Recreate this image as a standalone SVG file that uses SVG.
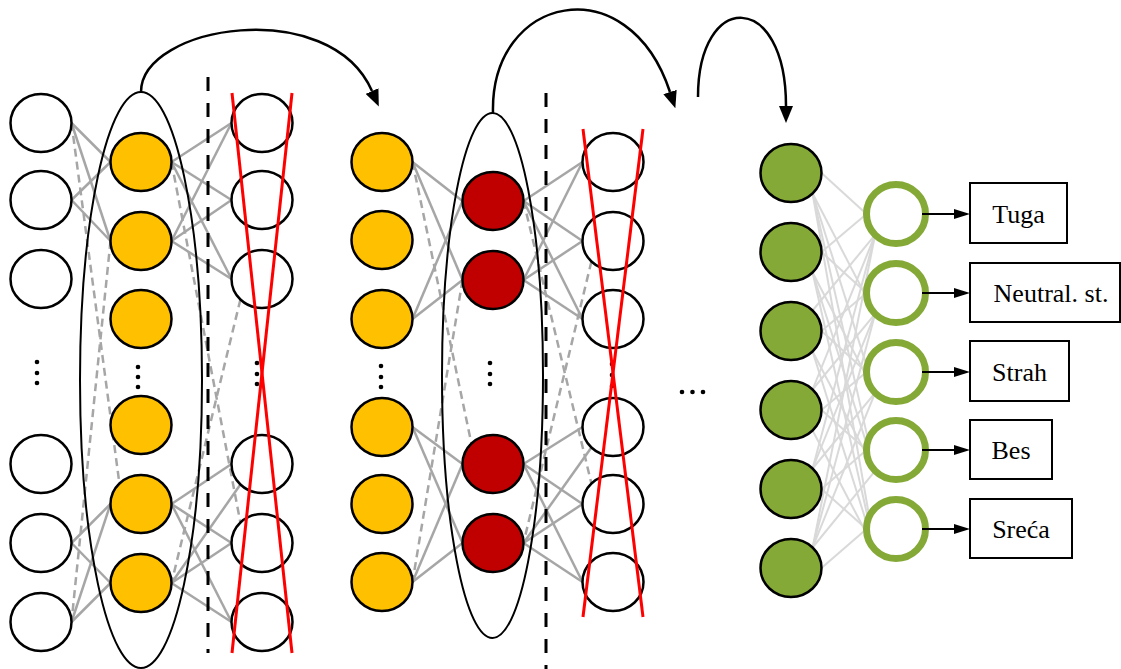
<svg xmlns="http://www.w3.org/2000/svg" width="1121" height="669" viewBox="0 0 1121 669">
<style>
.n{stroke:#000;stroke-width:2.5}
.w{fill:#fff}
.y{fill:#FFC000}
.r{fill:#C00000}
.g{fill:#84A936}
.ring{fill:#fff;stroke:#84A936;stroke-width:7}
.s{stroke:#A6A6A6;stroke-width:2.5;fill:none}
.d{stroke:#A6A6A6;stroke-width:2.5;fill:none;stroke-dasharray:8,5}
.lg{stroke:#D9D9D9;stroke-width:2;fill:none}
.ell{fill:none;stroke:#000;stroke-width:2}
.vd{stroke:#000;stroke-width:3;stroke-dasharray:14,12;fill:none}
.x{stroke:#FF0000;stroke-width:3;fill:none}
.arc{stroke:#000;stroke-width:2.5;fill:none}
.ar{stroke:#000;stroke-width:2;fill:none}
.box{fill:#fff;stroke:#000;stroke-width:2}
.t{font-family:"Liberation Serif","Times New Roman",serif;font-size:26px;fill:#000;text-anchor:middle}
.dot{fill:#000}
</style>
<defs>
<marker id="big" viewBox="0 0 17 14" refX="0" refY="7" markerWidth="17" markerHeight="14" markerUnits="userSpaceOnUse" orient="auto"><path d="M0,0 L17,7 L0,14 z" fill="#000"/></marker>
<marker id="sm" viewBox="0 0 16 10" refX="0" refY="5" markerWidth="16" markerHeight="10" markerUnits="userSpaceOnUse" orient="auto"><path d="M0,0 L16,5 L0,10 z" fill="#000"/></marker>
</defs>

<g id="connectors">
<!-- layer 1 -->
<line class="s" x1="71.5" y1="123" x2="110.5" y2="162"/>
<line class="s" x1="71.5" y1="123" x2="110.5" y2="241"/>
<line class="s" x1="71.5" y1="200" x2="110.5" y2="162"/>
<line class="s" x1="71.5" y1="200" x2="110.5" y2="241"/>
<line class="s" x1="71.5" y1="543" x2="110.5" y2="504"/>
<line class="s" x1="71.5" y1="543" x2="110.5" y2="583"/>
<line class="s" x1="71.5" y1="622" x2="110.5" y2="504"/>
<line class="s" x1="71.5" y1="622" x2="110.5" y2="583"/>
<line class="d" x1="71.5" y1="123" x2="119.4" y2="483.5"/>
<line class="d" x1="110.5" y1="241" x2="71.5" y2="622"/>
<!-- layer 2 -->
<line class="s" x1="171.5" y1="162" x2="231.5" y2="123"/>
<line class="s" x1="171.5" y1="162" x2="231.5" y2="200"/>
<line class="s" x1="171.5" y1="162" x2="231.5" y2="279"/>
<line class="s" x1="171.5" y1="241" x2="231.5" y2="123"/>
<line class="s" x1="171.5" y1="241" x2="231.5" y2="200"/>
<line class="s" x1="171.5" y1="241" x2="231.5" y2="279"/>
<line class="s" x1="171.5" y1="504" x2="231.5" y2="464"/>
<line class="s" x1="171.5" y1="504" x2="231.5" y2="543"/>
<line class="s" x1="171.5" y1="504" x2="231.5" y2="622"/>
<line class="s" x1="171.5" y1="583" x2="240.4" y2="484.5"/>
<line class="s" x1="171.5" y1="583" x2="231.5" y2="543"/>
<line class="s" x1="171.5" y1="583" x2="231.5" y2="622"/>
<line class="d" x1="171.5" y1="162" x2="240.4" y2="522.5"/>
<line class="d" x1="240.4" y1="299.5" x2="171.5" y2="583"/>
<!-- layer 3 -->
<line class="s" x1="412.5" y1="162" x2="462.5" y2="201"/>
<line class="s" x1="412.5" y1="162" x2="462.5" y2="280"/>
<line class="s" x1="412.5" y1="319" x2="462.5" y2="201"/>
<line class="s" x1="412.5" y1="319" x2="462.5" y2="280"/>
<line class="s" x1="412.5" y1="427" x2="462.5" y2="464"/>
<line class="s" x1="412.5" y1="427" x2="462.5" y2="543"/>
<line class="s" x1="412.5" y1="582" x2="462.5" y2="464"/>
<line class="s" x1="412.5" y1="582" x2="462.5" y2="543"/>
<line class="d" x1="412.5" y1="162" x2="471.4" y2="443.5"/>
<line class="d" x1="462.5" y1="280" x2="412.5" y2="582"/>
<!-- layer 4 -->
<line class="s" x1="523.5" y1="201" x2="582.5" y2="162"/>
<line class="s" x1="523.5" y1="201" x2="582.5" y2="241"/>
<line class="s" x1="523.5" y1="201" x2="582.5" y2="319"/>
<line class="s" x1="523.5" y1="280" x2="582.5" y2="162"/>
<line class="s" x1="523.5" y1="280" x2="582.5" y2="241"/>
<line class="s" x1="523.5" y1="280" x2="582.5" y2="319"/>
<line class="s" x1="523.5" y1="464" x2="582.5" y2="427"/>
<line class="s" x1="523.5" y1="464" x2="582.5" y2="504"/>
<line class="s" x1="523.5" y1="464" x2="582.5" y2="582"/>
<line class="s" x1="523.5" y1="543" x2="591.4" y2="447.5"/>
<line class="s" x1="523.5" y1="543" x2="582.5" y2="504"/>
<line class="s" x1="523.5" y1="543" x2="582.5" y2="582"/>
<line class="d" x1="523.5" y1="201" x2="591.4" y2="483.5"/>
<line class="d" x1="591.4" y1="261.5" x2="523.5" y2="543"/>
<!-- layer 5 -->
<line class="lg" x1="821.5" y1="173" x2="866.5" y2="214"/>
<line class="lg" x1="812.6" y1="193.5" x2="875.1" y2="313.9"/>
<line class="lg" x1="812.6" y1="193.5" x2="875.1" y2="392.9"/>
<line class="lg" x1="812.6" y1="193.5" x2="875.1" y2="470.9"/>
<line class="lg" x1="812.6" y1="193.5" x2="875.1" y2="549.9"/>
<line class="lg" x1="821.5" y1="252" x2="866.5" y2="214"/>
<line class="lg" x1="821.5" y1="252" x2="866.5" y2="293"/>
<line class="lg" x1="812.6" y1="272.5" x2="875.1" y2="392.9"/>
<line class="lg" x1="812.6" y1="272.5" x2="875.1" y2="470.9"/>
<line class="lg" x1="812.6" y1="272.5" x2="875.1" y2="549.9"/>
<line class="lg" x1="812.6" y1="310.5" x2="875.1" y2="234.9"/>
<line class="lg" x1="821.5" y1="331" x2="866.5" y2="293"/>
<line class="lg" x1="821.5" y1="331" x2="866.5" y2="372"/>
<line class="lg" x1="812.6" y1="351.5" x2="875.1" y2="470.9"/>
<line class="lg" x1="812.6" y1="351.5" x2="875.1" y2="549.9"/>
<line class="lg" x1="812.6" y1="389.5" x2="875.1" y2="234.9"/>
<line class="lg" x1="812.6" y1="389.5" x2="875.1" y2="313.9"/>
<line class="lg" x1="821.5" y1="410" x2="866.5" y2="372"/>
<line class="lg" x1="821.5" y1="410" x2="866.5" y2="450"/>
<line class="lg" x1="812.6" y1="430.5" x2="875.1" y2="549.9"/>
<line class="lg" x1="812.6" y1="468.5" x2="875.1" y2="234.9"/>
<line class="lg" x1="812.6" y1="468.5" x2="875.1" y2="313.9"/>
<line class="lg" x1="812.6" y1="468.5" x2="875.1" y2="392.9"/>
<line class="lg" x1="821.5" y1="489" x2="866.5" y2="450"/>
<line class="lg" x1="821.5" y1="489" x2="866.5" y2="529"/>
<line class="lg" x1="812.6" y1="547.5" x2="875.1" y2="234.9"/>
<line class="lg" x1="812.6" y1="547.5" x2="875.1" y2="313.9"/>
<line class="lg" x1="812.6" y1="547.5" x2="875.1" y2="392.9"/>
<line class="lg" x1="812.6" y1="547.5" x2="875.1" y2="470.9"/>
<line class="lg" x1="821.5" y1="568" x2="866.5" y2="529"/>
<!-- dashed separators -->
<line class="vd" x1="208" y1="77" x2="208" y2="653"/>
<line class="vd" x1="546" y1="93" x2="546" y2="669"/>
<!-- arcs -->
<path class="arc" d="M141,92 C141,25 330,-5 372,91" marker-end="url(#big)"/>
<path class="arc" d="M493,113 C490,-5 628,-35 670,92" marker-end="url(#big)"/>
<path class="arc" d="M698,97 C698,-10 786,-10 786,106" marker-end="url(#big)"/>
</g>

<g id="ellipse1"><ellipse class="ell" cx="141" cy="380" rx="61" ry="288"/></g>
<g id="ellipse2"><ellipse class="ell" cx="492.5" cy="375.5" rx="50.5" ry="262.5"/></g>

<g id="input-1"><ellipse class="n w" cx="41" cy="123" rx="30.5" ry="29"/></g>
<g id="input-2"><ellipse class="n w" cx="41" cy="200" rx="30.5" ry="29"/></g>
<g id="input-3"><ellipse class="n w" cx="41" cy="279" rx="30.5" ry="29"/></g>
<g id="input-4"><ellipse class="n w" cx="41" cy="464" rx="30.5" ry="29"/></g>
<g id="input-5"><ellipse class="n w" cx="41" cy="543" rx="30.5" ry="29"/></g>
<g id="input-6"><ellipse class="n w" cx="41" cy="622" rx="30.5" ry="29"/></g>
<g id="input-dots"><circle class="dot" cx="37" cy="362" r="2.3"/><circle class="dot" cx="37" cy="373" r="2.3"/><circle class="dot" cx="37" cy="383" r="2.3"/></g>

<g id="y1-1"><ellipse class="n y" cx="141" cy="162" rx="30.5" ry="29"/></g>
<g id="y1-2"><ellipse class="n y" cx="141" cy="241" rx="30.5" ry="29"/></g>
<g id="y1-3"><ellipse class="n y" cx="141" cy="319" rx="30.5" ry="29"/></g>
<g id="y1-4"><ellipse class="n y" cx="141" cy="425" rx="30.5" ry="29"/></g>
<g id="y1-5"><ellipse class="n y" cx="141" cy="504" rx="30.5" ry="29"/></g>
<g id="y1-6"><ellipse class="n y" cx="141" cy="583" rx="30.5" ry="29"/></g>
<g id="y1-dots"><circle class="dot" cx="138" cy="367" r="2.3"/><circle class="dot" cx="138" cy="377" r="2.3"/><circle class="dot" cx="138" cy="387" r="2.3"/></g>

<g id="x1-1"><ellipse class="n w" cx="262" cy="123" rx="30.5" ry="29"/></g>
<g id="x1-2"><ellipse class="n w" cx="262" cy="200" rx="30.5" ry="29"/></g>
<g id="x1-3"><ellipse class="n w" cx="262" cy="279" rx="30.5" ry="29"/></g>
<g id="x1-4"><ellipse class="n w" cx="262" cy="464" rx="30.5" ry="29"/></g>
<g id="x1-5"><ellipse class="n w" cx="262" cy="543" rx="30.5" ry="29"/></g>
<g id="x1-6"><ellipse class="n w" cx="262" cy="622" rx="30.5" ry="29"/></g>
<g id="x1-dots"><circle class="dot" cx="257" cy="363" r="2.3"/><circle class="dot" cx="257" cy="374" r="2.3"/><circle class="dot" cx="257" cy="384" r="2.3"/></g>
<g id="x1-cross"><line class="x" x1="232" y1="93" x2="292" y2="653"/><line class="x" x1="292" y1="93" x2="232" y2="653"/></g>

<g id="y2-1"><ellipse class="n y" cx="382" cy="162" rx="30.5" ry="29"/></g>
<g id="y2-2"><ellipse class="n y" cx="382" cy="240" rx="30.5" ry="29"/></g>
<g id="y2-3"><ellipse class="n y" cx="382" cy="319" rx="30.5" ry="29"/></g>
<g id="y2-4"><ellipse class="n y" cx="382" cy="427" rx="30.5" ry="29"/></g>
<g id="y2-5"><ellipse class="n y" cx="382" cy="504" rx="30.5" ry="29"/></g>
<g id="y2-6"><ellipse class="n y" cx="382" cy="582" rx="30.5" ry="29"/></g>
<g id="y2-dots"><circle class="dot" cx="381" cy="366" r="2.3"/><circle class="dot" cx="381" cy="377" r="2.3"/><circle class="dot" cx="381" cy="387" r="2.3"/></g>

<g id="r-1"><ellipse class="n r" cx="493" cy="201" rx="30.5" ry="29"/></g>
<g id="r-2"><ellipse class="n r" cx="493" cy="280" rx="30.5" ry="29"/></g>
<g id="r-3"><ellipse class="n r" cx="493" cy="464" rx="30.5" ry="29"/></g>
<g id="r-4"><ellipse class="n r" cx="493" cy="543" rx="30.5" ry="29"/></g>
<g id="r-dots"><circle class="dot" cx="490" cy="363" r="2.3"/><circle class="dot" cx="490" cy="374" r="2.3"/><circle class="dot" cx="490" cy="384" r="2.3"/></g>

<g id="x2-1"><ellipse class="n w" cx="613" cy="162" rx="30.5" ry="29"/></g>
<g id="x2-2"><ellipse class="n w" cx="613" cy="241" rx="30.5" ry="29"/></g>
<g id="x2-3"><ellipse class="n w" cx="613" cy="319" rx="30.5" ry="29"/></g>
<g id="x2-4"><ellipse class="n w" cx="613" cy="427" rx="30.5" ry="29"/></g>
<g id="x2-5"><ellipse class="n w" cx="613" cy="504" rx="30.5" ry="29"/></g>
<g id="x2-6"><ellipse class="n w" cx="613" cy="582" rx="30.5" ry="29"/></g>
<g id="x2-dots"><circle class="dot" cx="612" cy="364" r="2.3"/><circle class="dot" cx="612" cy="375" r="2.3"/><circle class="dot" cx="612" cy="386" r="2.3"/></g>
<g id="x2-cross"><line class="x" x1="583" y1="129" x2="643" y2="617"/><line class="x" x1="643" y1="129" x2="583" y2="617"/></g>

<g id="ellipsis"><circle class="dot" cx="682" cy="392" r="2.3"/><circle class="dot" cx="692.5" cy="392" r="2.3"/><circle class="dot" cx="703" cy="392" r="2.3"/></g>

<g id="g-1"><ellipse class="n g" cx="791" cy="173" rx="30.5" ry="29"/></g>
<g id="g-2"><ellipse class="n g" cx="791" cy="252" rx="30.5" ry="29"/></g>
<g id="g-3"><ellipse class="n g" cx="791" cy="331" rx="30.5" ry="29"/></g>
<g id="g-4"><ellipse class="n g" cx="791" cy="410" rx="30.5" ry="29"/></g>
<g id="g-5"><ellipse class="n g" cx="791" cy="489" rx="30.5" ry="29"/></g>
<g id="g-6"><ellipse class="n g" cx="791" cy="568" rx="30.5" ry="29"/></g>

<g id="out-1"><circle class="ring" cx="896" cy="214" r="29.5"/></g>
<g id="out-2"><circle class="ring" cx="896" cy="293" r="29.5"/></g>
<g id="out-3"><circle class="ring" cx="896" cy="372" r="29.5"/></g>
<g id="out-4"><circle class="ring" cx="896" cy="450" r="29.5"/></g>
<g id="out-5"><circle class="ring" cx="896" cy="529" r="29.5"/></g>

<g id="out-arrows">
<line class="ar" x1="922" y1="214" x2="954" y2="214" marker-end="url(#sm)"/>
<line class="ar" x1="922" y1="293" x2="954" y2="293" marker-end="url(#sm)"/>
<line class="ar" x1="922" y1="372" x2="954" y2="372" marker-end="url(#sm)"/>
<line class="ar" x1="922" y1="450" x2="954" y2="450" marker-end="url(#sm)"/>
<line class="ar" x1="922" y1="529" x2="954" y2="529" marker-end="url(#sm)"/>
</g>

<g id="label-tuga"><rect class="box" x="970" y="183" width="97" height="60"/><text class="t" x="1018.5" y="223">Tuga</text></g>
<g id="label-neutral"><rect class="box" x="970" y="263" width="150" height="59"/><text class="t" x="1051" y="302">Neutral. st.</text></g>
<g id="label-strah"><rect class="box" x="970" y="341" width="99" height="60"/><text class="t" x="1019.5" y="381">Strah</text></g>
<g id="label-bes"><rect class="box" x="970" y="420" width="82" height="59"/><text class="t" x="1011" y="459">Bes</text></g>
<g id="label-sreca"><rect class="box" x="970" y="499" width="102" height="59"/><text class="t" x="1021" y="538">Sreća</text></g>
</svg>
